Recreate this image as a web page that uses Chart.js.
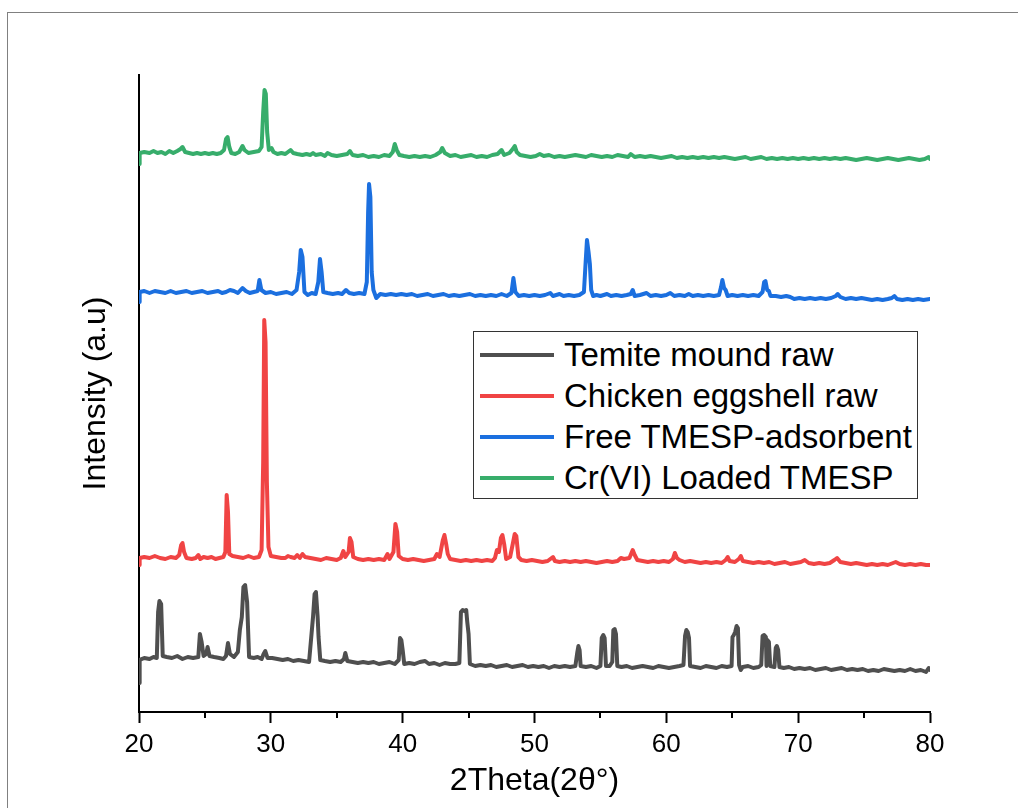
<!DOCTYPE html>
<html>
<head>
<meta charset="utf-8">
<script src="https://cdn.jsdelivr.net/npm/chart.js@4.4.1/dist/chart.umd.min.js"></script>
<style>
  html, body { margin: 0; padding: 0; background: #fff; }
  #wrap { position: relative; width: 1018px; height: 808px; overflow: hidden; }
  #frame { position: absolute; left: 7px; top: 12px; width: 1100px; height: 900px;
    border-left: 1.5px solid #808080; border-top: 1.5px solid #808080; }
  #myChart { position: absolute; left: 0; top: 0; }
  #legend { position: absolute; left: 473px; top: 331px; width: 445px; height: 168px;
    box-sizing: border-box; border: 1.5px solid #333; background: #fff;
    font-family: "Liberation Sans", Arial, sans-serif; }
  .item { position: absolute; left: 0; height: 40px; width: 100%; }
  .item .swatch { position: absolute; left: 6px; top: 18px; width: 74px; height: 4px; }
  .item .label { position: absolute; left: 90px; top: 0; font-size: 33px; line-height: 40px;
    color: #000; white-space: nowrap; }
</style>
</head>
<body>
<div id="wrap">
  <div id="frame"></div>
  <canvas id="myChart" width="1018" height="808"></canvas>
  <div id="legend"></div>
</div>
<script>
// series names and colours
const seriesNames = ["Temite mound raw", "Chicken eggshell raw", "Free TMESP-adsorbent", "Cr(VI) Loaded TMESP"];
const seriesColors = ["#4f4f4f", "#f04444", "#1b6fdf", "#37ad6b"];
const xTicks = [20, 30, 40, 50, 60, 70, 80];
const xMinorTicks = [25, 35, 45, 55, 65, 75];

// [2theta, intensity] (curves already offset as plotted)
const termite = [[20,29],[20.05,52],[20.4,54],[20.8,53],[21.1,55],[21.35,54],[21.45,100],[21.55,111],[21.68,108],[21.8,56],[22.1,55],[22.5,54],[22.9,56],[23.3,53],[23.7,55],[24.1,54],[24.5,55],[24.62,78],[24.75,70],[24.9,56],[25.1,58],[25.2,65],[25.35,56],[25.7,55],[26.1,54],[26.4,53],[26.6,56],[26.75,69],[26.9,58],[27.2,55],[27.5,60],[27.65,82],[27.8,95],[27.92,125],[28.05,127],[28.2,110],[28.35,55],[28.7,54],[29.0,55],[29.3,53],[29.45,58],[29.58,61],[29.75,54],[30.1,54],[30.5,53],[30.9,52],[31.3,53],[31.7,51],[32.1,52],[32.5,51],[32.9,50],[33.2,95],[33.32,118],[33.42,120],[33.55,95],[33.62,75],[33.75,52],[34.1,51],[34.5,50],[34.9,51],[35.3,50],[35.55,53],[35.65,59],[35.8,51],[36.2,50],[36.6,49],[37.0,50],[37.4,49],[37.8,50],[38.2,48],[38.6,49],[39.0,50],[39.4,48],[39.7,52],[39.8,74],[39.9,72],[40.0,62],[40.12,48],[40.5,49],[40.9,48],[41.3,50],[41.7,51],[42.0,48],[42.4,49],[42.8,47],[43.2,49],[43.6,48],[44.0,48],[44.3,49],[44.42,100],[44.55,102],[44.7,101],[44.82,102],[44.9,90],[45.0,78],[45.1,48],[45.5,46],[45.9,47],[46.3,46],[46.7,47],[47.1,45],[47.5,46],[47.9,47],[48.3,45],[48.7,46],[49.1,47],[49.5,45],[49.9,46],[50.3,45],[50.7,46],[51.1,44],[51.5,46],[51.9,45],[52.3,46],[52.7,45],[53.1,46],[53.25,60],[53.33,66],[53.42,62],[53.5,46],[53.9,45],[54.3,46],[54.7,44],[55.0,46],[55.1,74],[55.22,77],[55.32,74],[55.42,46],[55.7,46],[55.9,50],[55.98,82],[56.08,83],[56.18,78],[56.28,46],[56.6,45],[57.0,46],[57.4,44],[57.8,45],[58.2,46],[58.6,45],[59.0,44],[59.4,46],[59.8,45],[60.2,44],[60.6,45],[61.0,46],[61.3,47],[61.42,76],[61.52,82],[61.62,80],[61.72,74],[61.8,46],[62.2,45],[62.6,44],[63.0,46],[63.4,45],[63.8,44],[64.2,46],[64.6,45],[64.95,46],[65.02,75],[65.12,77],[65.22,80],[65.33,86],[65.43,84],[65.52,47],[65.65,42],[65.8,45],[66.2,46],[66.6,44],[67.0,45],[67.2,47],[67.3,76],[67.42,77],[67.55,75],[67.6,46],[67.66,72],[67.78,70],[67.88,46],[68.2,45],[68.3,64],[68.38,66],[68.48,62],[68.58,45],[68.9,44],[69.3,45],[69.7,43],[70.1,44],[70.5,43],[70.9,44],[71.3,42],[71.7,43],[72.1,44],[72.5,42],[72.9,43],[73.3,44],[73.7,42],[74.1,43],[74.5,42],[74.9,43],[75.3,41],[75.7,42],[76.1,41],[76.5,43],[76.9,42],[77.3,41],[77.7,42],[78.1,41],[78.5,43],[78.9,41],[79.3,42],[79.7,40],[79.9,44],[80,42]];

const eggshell = [[20,147],[20.05,154],[20.4,155],[20.8,154],[21.2,156],[21.6,154],[22.0,153],[22.4,155],[22.8,154],[23.05,157],[23.2,167],[23.3,169],[23.42,160],[23.6,154],[24.0,153],[24.3,154],[24.5,157],[24.65,153],[24.9,155],[25.2,154],[25.5,155],[25.8,153],[26.1,154],[26.4,155],[26.55,160],[26.65,217],[26.75,200],[26.85,158],[27.1,156],[27.5,155],[27.9,154],[28.3,156],[28.7,154],[29.1,155],[29.3,162],[29.42,250],[29.5,392],[29.6,370],[29.7,230],[29.82,165],[30.0,156],[30.4,155],[30.8,154],[31.1,154],[31.3,156],[31.5,155],[31.8,154],[32.0,157],[32.2,154],[32.4,158],[32.6,155],[33.0,154],[33.4,153],[33.8,152],[34.2,154],[34.6,153],[35.0,152],[35.3,154],[35.5,161],[35.65,155],[35.9,160],[36.0,174],[36.12,170],[36.25,155],[36.6,153],[37.0,152],[37.4,153],[37.8,152],[38.2,153],[38.6,152],[38.85,158],[39.0,153],[39.3,160],[39.45,188],[39.58,180],[39.7,156],[40.0,153],[40.4,152],[40.8,153],[41.2,152],[41.6,151],[42.0,152],[42.4,153],[42.6,158],[42.8,155],[43.05,172],[43.17,177],[43.3,168],[43.42,158],[43.6,153],[44.0,152],[44.4,151],[44.8,152],[45.2,151],[45.6,152],[46.0,151],[46.4,152],[46.8,151],[47.0,154],[47.15,162],[47.3,160],[47.45,174],[47.57,177],[47.7,168],[47.85,153],[48.15,155],[48.35,168],[48.5,178],[48.62,176],[48.78,155],[49.0,152],[49.4,151],[49.8,152],[50.2,151],[50.6,150],[51.0,151],[51.4,155],[51.55,151],[51.9,150],[52.3,151],[52.7,150],[53.1,151],[53.5,150],[53.9,151],[54.3,150],[54.7,149],[55.1,150],[55.5,151],[55.9,150],[56.3,151],[56.55,154],[56.8,153],[57.2,154],[57.45,162],[57.6,157],[57.8,152],[58.2,151],[58.6,150],[59.0,151],[59.4,150],[59.8,151],[60.2,150],[60.5,153],[60.65,159],[60.8,154],[61.0,152],[61.4,150],[61.8,151],[62.2,150],[62.6,149],[63.0,150],[63.4,149],[63.8,150],[64.2,149],[64.5,152],[64.65,155],[64.8,151],[65.2,150],[65.5,153],[65.65,156],[65.8,151],[66.2,150],[66.6,149],[67.0,150],[67.4,149],[67.8,150],[68.2,148],[68.6,149],[69.0,150],[69.4,148],[69.8,149],[70.2,150],[70.5,152],[70.8,149],[71.2,148],[71.6,149],[72.0,148],[72.4,149],[72.75,152],[72.95,154],[73.2,150],[73.6,149],[74.0,148],[74.4,149],[74.8,148],[75.2,147],[75.6,148],[76.0,147],[76.4,148],[76.8,147],[77.2,149],[77.4,150],[77.7,148],[78.1,147],[78.5,148],[78.9,147],[79.3,148],[79.7,147],[80,147]];

const freeTmesp = [[20,410],[20.05,420],[20.4,421],[20.8,419],[21.2,421],[21.6,420],[22.0,419],[22.4,421],[22.8,419],[23.2,420],[23.6,421],[24.0,419],[24.4,420],[24.8,421],[25.2,419],[25.6,420],[26.0,421],[26.3,419],[26.6,420],[26.9,422],[27.2,421],[27.5,419],[27.85,424],[28.1,421],[28.4,419],[28.7,420],[29.0,421],[29.13,432],[29.28,422],[29.6,419],[30.0,420],[30.4,418],[30.8,419],[31.2,420],[31.6,418],[31.95,422],[32.15,440],[32.27,462],[32.4,455],[32.55,420],[32.8,417],[33.1,419],[33.4,418],[33.6,430],[33.73,453],[33.85,440],[33.98,420],[34.3,419],[34.7,418],[35.1,419],[35.4,418],[35.7,422],[35.95,419],[36.3,418],[36.7,419],[37.1,418],[37.28,430],[37.38,500],[37.45,528],[37.55,515],[37.65,440],[37.78,422],[38.0,414],[38.3,418],[38.7,417],[39.1,418],[39.5,417],[39.9,418],[40.3,417],[40.7,418],[41.1,416],[41.5,417],[41.9,418],[42.3,416],[42.7,417],[43.1,418],[43.5,416],[43.9,417],[44.3,416],[44.7,417],[45.1,418],[45.5,416],[45.9,417],[46.3,416],[46.7,417],[47.1,416],[47.5,418],[47.9,416],[48.25,419],[48.4,434],[48.55,420],[48.8,416],[49.2,417],[49.6,416],[50.0,417],[50.4,416],[50.8,417],[51.2,419],[51.4,416],[51.9,418],[52.2,416],[52.6,417],[53.0,416],[53.4,417],[53.75,420],[53.88,450],[53.98,472],[54.1,460],[54.2,448],[54.3,422],[54.45,416],[54.7,417],[55.0,416],[55.5,418],[55.8,416],[56.2,417],[56.6,416],[57.0,417],[57.3,418],[57.45,422],[57.6,416],[58.0,417],[58.5,419],[58.8,416],[59.2,417],[59.6,416],[60.0,417],[60.3,419],[60.6,416],[61.0,417],[61.4,416],[61.7,418],[62.0,416],[62.4,417],[62.8,416],[63.2,417],[63.6,416],[64.0,417],[64.15,425],[64.25,432],[64.38,424],[64.5,422],[64.65,416],[65.0,417],[65.4,416],[65.8,417],[66.2,416],[66.6,417],[67.0,416],[67.3,420],[67.42,430],[67.52,431],[67.65,422],[67.78,421],[67.9,416],[68.3,416],[68.7,415],[69.1,416],[69.4,415],[69.7,413],[70.1,414],[70.5,413],[70.9,414],[71.3,413],[71.7,414],[72.1,413],[72.5,414],[72.85,416],[73.0,418],[73.2,415],[73.6,413],[74.0,414],[74.4,413],[74.8,414],[75.2,413],[75.6,412],[76.0,413],[76.4,412],[76.8,413],[77.1,414],[77.3,416],[77.5,413],[77.9,412],[78.3,413],[78.7,412],[79.1,413],[79.5,412],[80,413]];

const crLoaded = [[20,548],[20.05,559],[20.4,560],[20.8,559],[21.1,561],[21.4,559],[21.7,560],[22.0,558],[22.3,561],[22.6,559],[22.9,561],[23.15,563],[23.3,565],[23.5,560],[23.8,559],[24.1,558],[24.4,559],[24.7,558],[25.0,559],[25.3,558],[25.6,559],[25.9,558],[26.2,559],[26.45,562],[26.6,573],[26.72,575],[26.85,565],[27.0,559],[27.3,558],[27.6,560],[27.85,566],[28.0,562],[28.3,559],[28.7,560],[29.1,561],[29.3,565],[29.42,600],[29.52,622],[29.62,618],[29.72,580],[29.85,562],[30.05,564],[30.2,560],[30.5,558],[30.8,559],[31.1,558],[31.5,562],[31.7,559],[32.0,558],[32.4,557],[32.7,558],[33.0,557],[33.2,559],[33.4,557],[33.8,558],[34.1,556],[34.3,559],[34.6,557],[35.0,556],[35.4,557],[35.8,558],[36.0,561],[36.2,557],[36.6,556],[37.0,557],[37.4,555],[37.8,556],[38.2,555],[38.6,557],[39.0,556],[39.25,560],[39.4,568],[39.55,562],[39.75,557],[40.1,556],[40.5,555],[40.9,556],[41.3,555],[41.7,556],[42.1,555],[42.5,557],[42.85,560],[43.0,564],[43.2,559],[43.6,556],[44.0,557],[44.4,555],[44.8,556],[45.2,557],[45.6,555],[46.0,556],[46.4,555],[46.8,557],[47.2,558],[47.5,562],[47.7,557],[48.1,559],[48.35,563],[48.5,566],[48.65,560],[48.9,557],[49.3,556],[49.7,555],[50.1,556],[50.4,558],[50.7,556],[51.1,557],[51.5,555],[51.9,556],[52.3,555],[52.7,556],[53.1,557],[53.5,556],[53.9,555],[54.3,557],[54.7,556],[55.1,555],[55.5,556],[55.9,555],[56.3,557],[56.7,556],[57.1,555],[57.3,558],[57.6,555],[58.0,556],[58.4,555],[58.8,556],[59.2,555],[59.6,554],[60.0,555],[60.4,556],[60.8,554],[61.2,555],[61.6,554],[62.0,555],[62.4,554],[62.8,555],[63.2,554],[63.6,555],[64.0,554],[64.4,555],[64.8,554],[65.2,553],[65.6,554],[66.0,555],[66.4,553],[66.8,554],[67.2,555],[67.6,553],[68.0,554],[68.4,553],[68.8,554],[69.2,553],[69.6,554],[70.0,553],[70.4,554],[70.8,553],[71.2,554],[71.6,553],[72.0,554],[72.4,553],[72.8,554],[73.2,553],[73.6,554],[74.0,553],[74.4,552],[74.8,553],[75.2,554],[75.6,553],[76.0,552],[76.4,553],[76.8,554],[77.2,553],[77.6,552],[78.0,553],[78.4,554],[78.8,553],[79.2,552],[79.6,553],[79.9,555],[80,553]];

const allSeries = [termite, eggshell, freeTmesp, crLoaded];
const FONT = "'Liberation Sans', Arial, sans-serif";

// short minor ticks at 25, 35, ...
const minorTicks = {
  id: "minorTicks",
  afterDraw(chart) {
    const ctx = chart.ctx;
    const x = chart.scales.x;
    ctx.save();
    ctx.strokeStyle = "#000";
    ctx.lineWidth = 2;
    xMinorTicks.forEach(v => {
      const px = Math.round(x.getPixelForValue(v));
      ctx.beginPath();
      ctx.moveTo(px, chart.chartArea.bottom);
      ctx.lineTo(px, chart.chartArea.bottom + 6);
      ctx.stroke();
    });
    ctx.restore();
  }
};

const ctx = document.getElementById("myChart").getContext("2d");
const myChart = new Chart(ctx, {
  type: "line",
  data: {
    datasets: allSeries.map((s, i) => ({
      label: seriesNames[i],
      data: s.map(p => ({ x: p[0], y: p[1] })),
      borderColor: seriesColors[i],
      borderWidth: 4,
      borderJoinStyle: "round",
      borderCapStyle: "round",
      pointRadius: 0,
      tension: 0,
      fill: false,
    })),
  },
  options: {
    responsive: false,
    animation: false,
    layout: { padding: { left: 0, top: 75, right: 88, bottom: 0 } },
    plugins: { legend: { display: false }, tooltip: { enabled: false } },
    scales: {
      x: {
        type: "linear",
        min: 20,
        max: 80,
        afterBuildTicks: s => { s.ticks = xTicks.map(v => ({ value: v })); },
        afterFit: s => { s.height = 96; },
        grid: { display: true, drawOnChartArea: false, drawTicks: true, tickLength: 11, tickWidth: 2, tickColor: "#000" },
        border: { display: true, color: "#000", width: 2 },
        ticks: { color: "#000", padding: 6, font: { family: FONT, size: 26 }, maxRotation: 0 },
        title: { display: true, text: "2Theta(2θ°)", color: "#000", font: { family: FONT, size: 32 }, padding: { bottom: 8 } },
      },
      y: {
        min: 0,
        max: 637,
        afterFit: s => { s.width = 139; },
        grid: { display: false },
        border: { display: true, color: "#000", width: 2 },
        ticks: { display: false },
        title: { display: true, text: "Intensity (a.u)", color: "#000", font: { family: FONT, size: 32 }, padding: { top: 77 } },
      },
    },
  },
  plugins: [minorTicks],
});

// legend box
const legendEl = document.getElementById("legend");
seriesNames.forEach((name, i) => {
  const row = document.createElement("div");
  row.className = "item";
  row.style.top = (3 + i * 41) + "px";
  row.innerHTML = `<div class="swatch" style="background:${seriesColors[i]}"></div><div class="label">${name}</div>`;
  legendEl.appendChild(row);
});
</script>
</body>
</html>
